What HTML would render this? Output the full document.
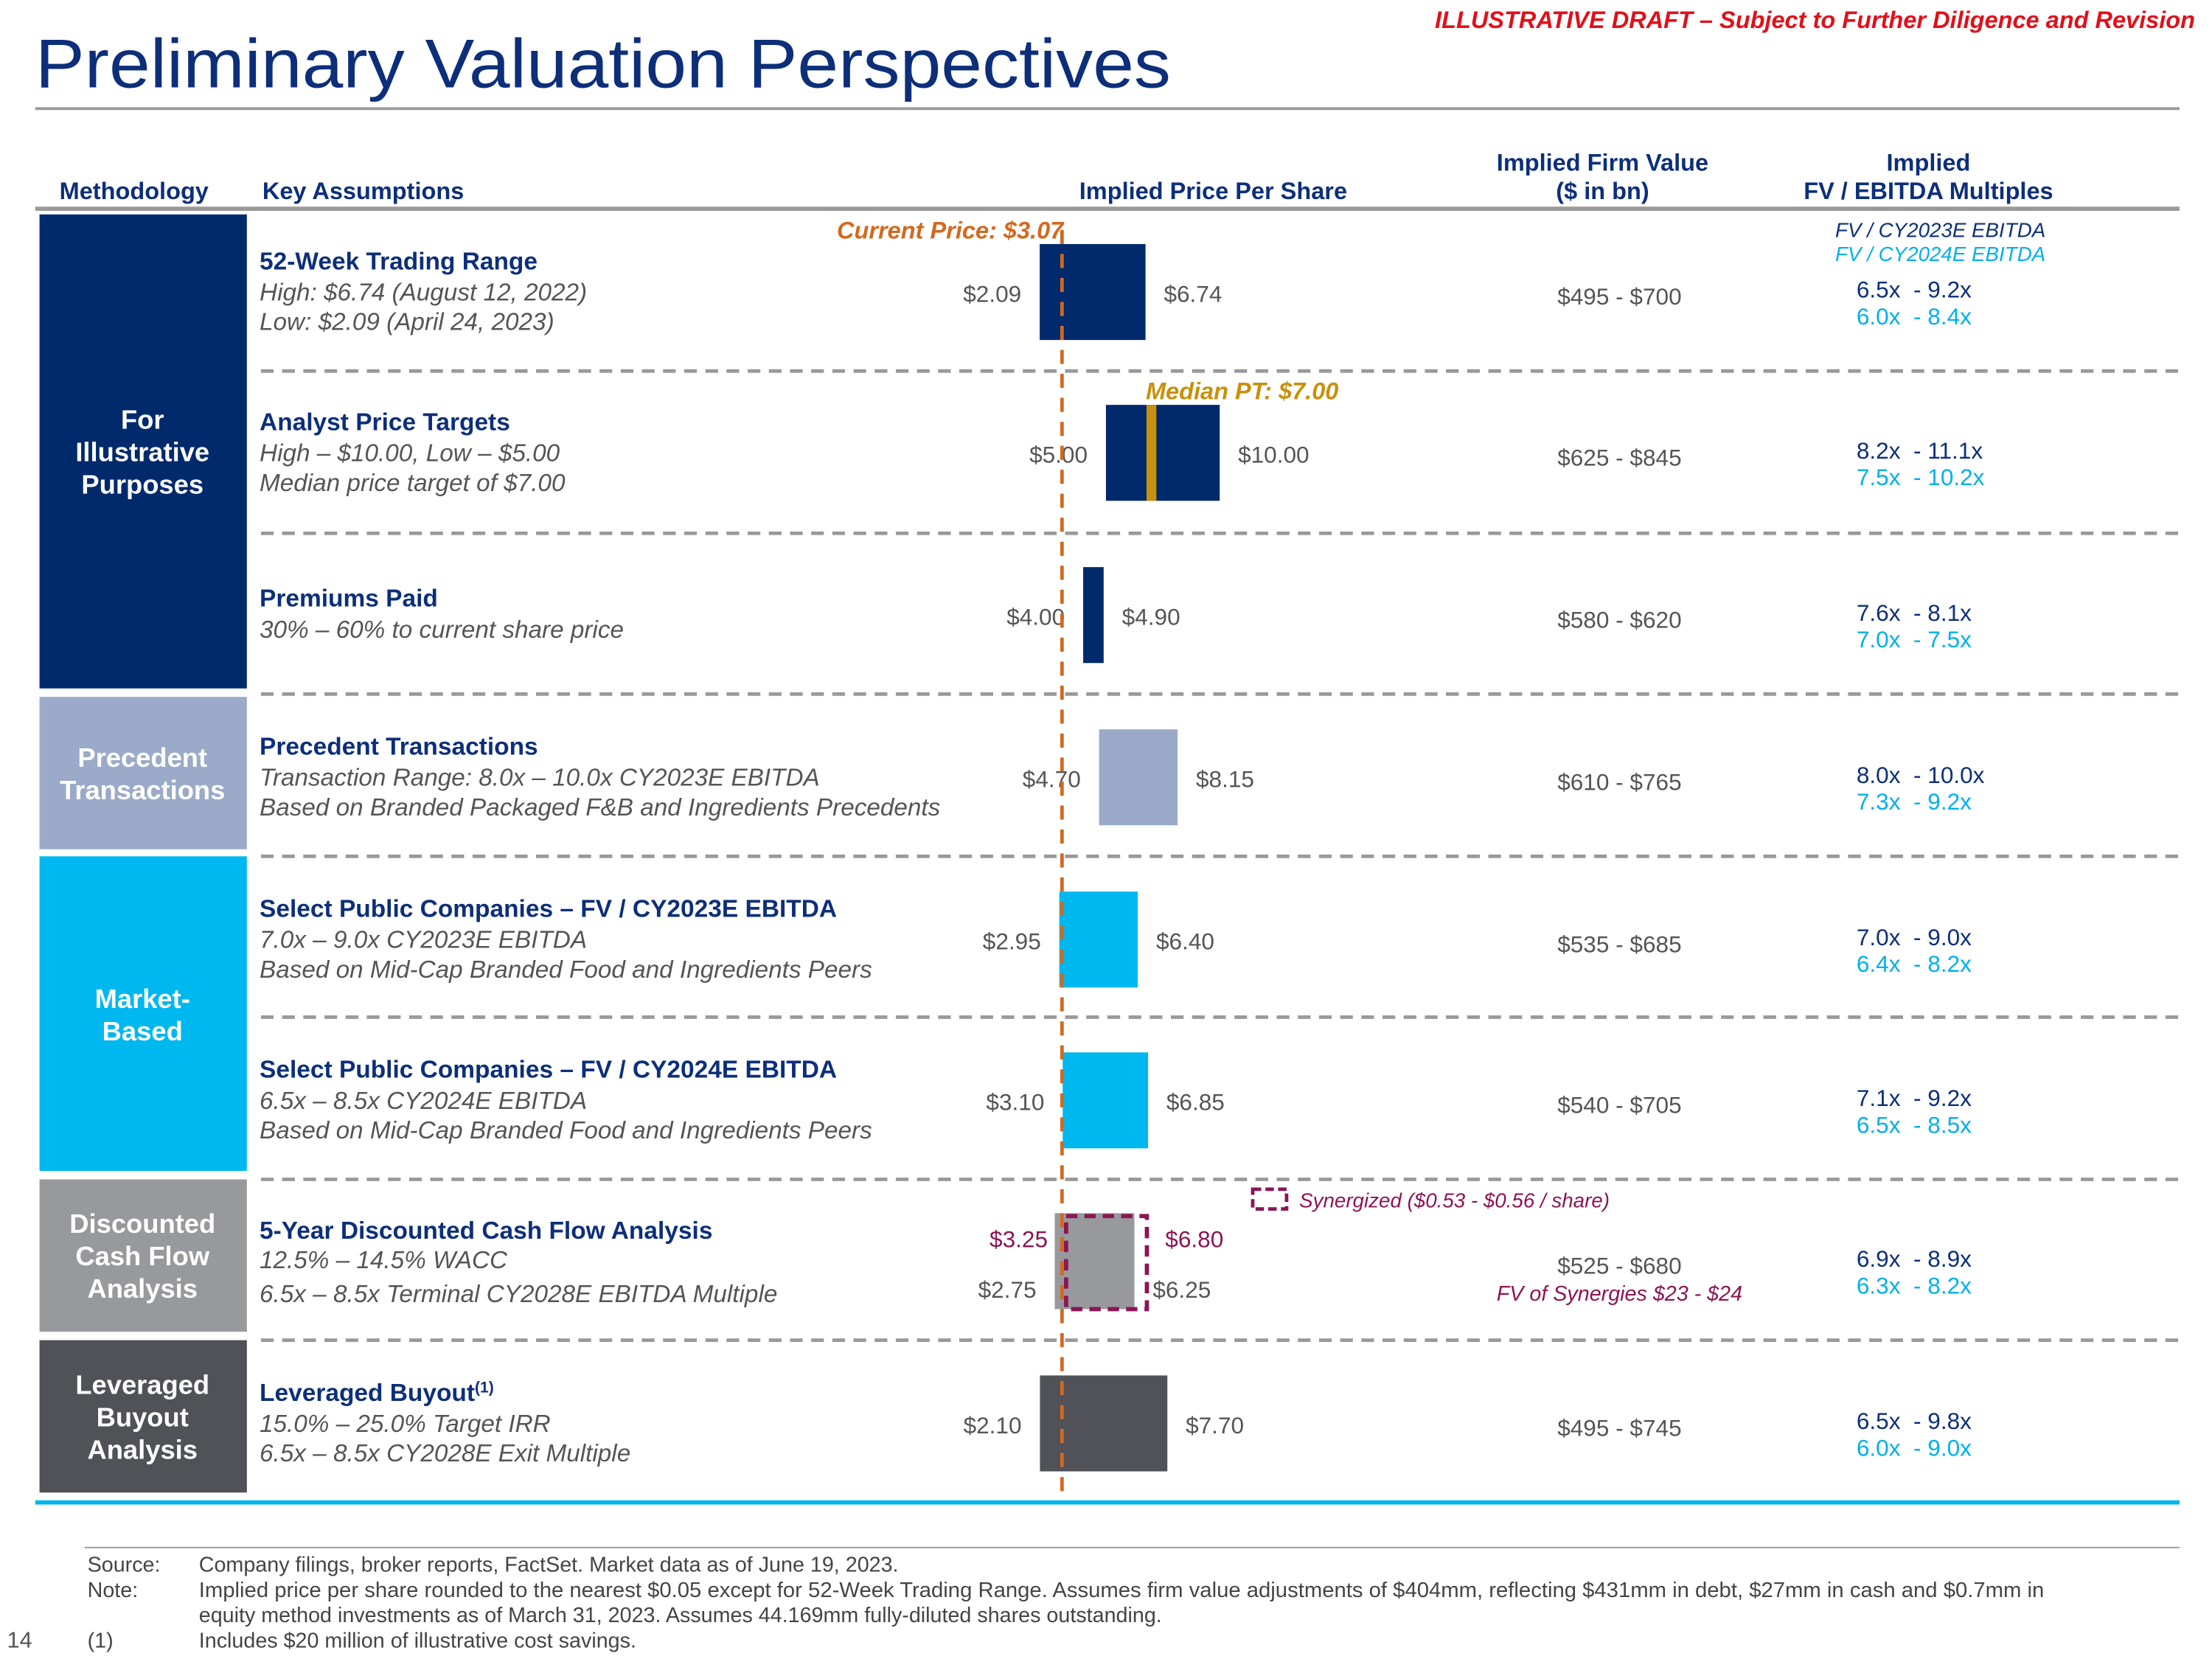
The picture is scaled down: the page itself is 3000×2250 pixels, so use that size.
<!DOCTYPE html>
<html><head><meta charset="utf-8"><style>
html,body{margin:0;padding:0;background:#fff}
svg{display:block;font-family:"Liberation Sans",Arial,sans-serif}
.pre{white-space:pre}
</style></head><body>
<svg id="chart" width="3000" height="2250" viewBox="0 0 1568 1176" xmlns="http://www.w3.org/2000/svg">
<rect width="1568" height="1176" fill="#fff"/>
<text x="1556" y="20" text-anchor="end" font-size="17" font-weight="bold" font-style="italic" fill="#e0101a">ILLUSTRATIVE DRAFT – Subject to Further Diligence and Revision</text>
<text x="25" y="62" font-size="49" fill="#0d2f7a" textLength="805" lengthAdjust="spacingAndGlyphs">Preliminary Valuation Perspectives</text>
<line x1="25" y1="77" x2="1545" y2="77" stroke="#999" stroke-width="2"/>
<g font-size="17" font-weight="bold" fill="#0d2f7a">
<text x="95" y="141" text-anchor="middle">Methodology</text>
<text x="186" y="141">Key Assumptions</text>
<text x="860" y="141" text-anchor="middle">Implied Price Per Share</text>
<text x="1136" y="121" text-anchor="middle">Implied Firm Value</text>
<text x="1136" y="141" text-anchor="middle">($ in bn)</text>
<text x="1367" y="121" text-anchor="middle">Implied</text>
<text x="1367" y="141" text-anchor="middle">FV / EBITDA Multiples</text>
</g>
<line x1="25" y1="148" x2="1545" y2="148" stroke="#999" stroke-width="3"/>
<g id="panels"></g>
<g id="rows"></g>
<line x1="25" y1="1065" x2="1545" y2="1065" stroke="#00b4ec" stroke-width="3"/>
<line x1="60" y1="1097" x2="1545" y2="1097" stroke="#999" stroke-width="1"/>
<g font-size="15" fill="#444">
<text x="62" y="1114">Source:</text><text x="141" y="1114">Company filings, broker reports, FactSet. Market data as of June 19, 2023.</text>
<text x="62" y="1132">Note:</text><text x="141" y="1132" textLength="1308" lengthAdjust="spacingAndGlyphs">Implied price per share rounded to the nearest $0.05 except for 52-Week Trading Range. Assumes firm value adjustments of $404mm, reflecting $431mm in debt, $27mm in cash and $0.7mm in</text>
<text x="141" y="1150">equity method investments as of March 31, 2023. Assumes 44.169mm fully-diluted shares outstanding.</text>
<text x="62" y="1168">(1)</text><text x="141" y="1168">Includes $20 million of illustrative cost savings.</text>
<text x="5" y="1168" font-size="16" fill="#555">14</text>
</g>
<script>
const rowLows = [2.09, 5.00, 4.00, 4.70, 2.95, 3.10, 2.75, 2.10];
const rowHighs = [6.74, 10.00, 4.90, 8.15, 6.40, 6.85, 6.25, 7.70];
const currentPrice = 3.07;
const medianPT = 7.00;
const synLow = 3.25, synHigh = 6.80;
const fvRanges = ["$495 - $700","$625 - $845","$580 - $620","$610 - $765","$535 - $685","$540 - $705","$525 - $680","$495 - $745"];
const mult23 = ["6.5x  - 9.2x","8.2x  - 11.1x","7.6x  - 8.1x","8.0x  - 10.0x","7.0x  - 9.0x","7.1x  - 9.2x","6.9x  - 8.9x","6.5x  - 9.8x"];
const mult24 = ["6.0x  - 8.4x","7.5x  - 10.2x","7.0x  - 7.5x","7.3x  - 9.2x","6.4x  - 8.2x","6.5x  - 8.5x","6.3x  - 8.2x","6.0x  - 9.0x"];
const titles = ["52-Week Trading Range","Analyst Price Targets","Premiums Paid","Precedent Transactions","Select Public Companies – FV / CY2023E EBITDA","Select Public Companies – FV / CY2024E EBITDA","5-Year Discounted Cash Flow Analysis","Leveraged Buyout"];
const lines = [["High: $6.74 (August 12, 2022)","Low: $2.09 (April 24, 2023)"],["High – $10.00, Low – $5.00","Median price target of $7.00"],["30% – 60% to current share price"],["Transaction Range: 8.0x – 10.0x CY2023E EBITDA","Based on Branded Packaged F&B and Ingredients Precedents"],["7.0x – 9.0x CY2023E EBITDA","Based on Mid-Cap Branded Food and Ingredients Peers"],["6.5x – 8.5x CY2024E EBITDA","Based on Mid-Cap Branded Food and Ingredients Peers"],["12.5% – 14.5% WACC","6.5x – 8.5x Terminal CY2028E EBITDA Multiple"],["15.0% – 25.0% Target IRR","6.5x – 8.5x CY2028E Exit Multiple"]];
const barColors = ["#002a6c","#002a6c","#002a6c","#9aaac8","#00b8f0","#00b8f0","#98999c","#505258"];
const NS="http://www.w3.org/2000/svg";
const rowsG=document.getElementById('rows');
const panelsG=document.getElementById('panels');
const X0=703.3, PX=16.13;
function x(v){return X0+v*PX;}
const rowC=[207,321,436,551,666,780,894,1009];
function mk(tag,attrs,parent,txt){const e=document.createElementNS(NS,tag);for(const k in attrs)e.setAttribute(k,attrs[k]);if(txt!==undefined)e.textContent=txt;(parent||rowsG).appendChild(e);return e;}
const panels=[[152,488,"#002a6c",["For","Illustrative","Purposes"],320],[494,602,"#9aaac8",["Precedent","Transactions"],548],[607,830,"#00b8f0",["Market-","Based"],719],[836,944,"#98999c",["Discounted","Cash Flow","Analysis"],890],[950,1058,"#505258",["Leveraged","Buyout","Analysis"],1004]];
panels.forEach((p,i)=>{
 const r=mk('rect',{x:28,y:p[0],width:147,height:p[1]-p[0],fill:p[2]},panelsG);
 
 
 const n=p[3].length;
 p[3].forEach((t,j)=>{
  const tx=mk('text',{x:101,y:p[4]+(j-(n-1)/2)*23+7,'text-anchor':'middle','font-size':19,'font-weight':'bold',fill:'#fff'},panelsG,t);
  
  
 });
});
[263,378,492,607,721,836,950].forEach(y=>{
 const l=mk('line',{x1:185,y1:y,x2:1545,y2:y,stroke:'#999','stroke-width':2.5,'stroke-dasharray':'9,6'});
 
 
});
rowLows.forEach((lo,i)=>{
 const c=rowC[i], hi=rowHighs[i];
 const nl=lines[i].length;
 const ty = nl===1 ? c-6 : c-16;
 const t=mk('text',{x:184,y:ty,'font-size':17.5,'font-weight':'bold',fill:'#0d2f7a'},rowsG,titles[i]);
 
 
 if(i===7){mk('tspan',{'font-size':11,dy:-6},t,'(1)');}
 lines[i].forEach((s,j)=>{
  const yy = i===6 ? (j===0?c+5:c+29) : ty+22+j*21;
  const e=mk('text',{x:184,y:yy,'font-size':17.4,'font-style':'italic',fill:'#555'},rowsG,s);
  
  
 });
 const b=mk('rect',{x:x(lo),y:c-34,width:x(hi)-x(lo),height:68,fill:barColors[i]});
 
 
 const ly = i===6 ? c+26 : c+7;
 const l1=mk('text',{x:x(lo)-13,y:ly,'text-anchor':'end','font-size':16.5,fill:'#555'},rowsG,'$'+lo.toFixed(2));
 
 
 const l2=mk('text',{x:x(hi)+13,y:ly,'font-size':16.5,fill:'#555'},rowsG,'$'+hi.toFixed(2));
 
 
 const fv=mk('text',{x:1148,y:c+9,'text-anchor':'middle','font-size':16.5,fill:'#555'},rowsG,fvRanges[i]);
 
 
 const m1=mk('text',{x:1316,y:c+4,'font-size':16.5,fill:'#0d2f7a','class':'pre'},rowsG,mult23[i]);
 
 
 const m2=mk('text',{x:1316,y:c+23,'font-size':16.5,fill:'#00b0ec','class':'pre'},rowsG,mult24[i]);
 
 
});
const mp=mk('rect',{x:x(medianPT)-3.5,y:rowC[1]-34,width:7,height:68,fill:'#c8900c'});


const mpt=mk('text',{x:x(medianPT)-4,y:283,'font-size':17,'font-weight':'bold','font-style':'italic',fill:'#c8900c'},rowsG,'Median PT: $'+medianPT.toFixed(2));


const sb=mk('rect',{x:x(synLow),y:rowC[6]-32,width:x(synHigh)-x(synLow),height:66,fill:'none',stroke:'#8c1556','stroke-width':3,'stroke-dasharray':'8,5'});


const s1=mk('text',{x:x(synLow)-13,y:rowC[6]-10,'text-anchor':'end','font-size':16.5,fill:'#8c1556'},rowsG,'$'+synLow.toFixed(2));


const s2=mk('text',{x:x(synHigh)+13,y:rowC[6]-10,'font-size':16.5,fill:'#8c1556'},rowsG,'$'+synHigh.toFixed(2));


const lg=mk('rect',{x:888,y:843,width:24,height:14,fill:'none',stroke:'#8c1556','stroke-width':2.5,'stroke-dasharray':'6,3'});


const lgt=mk('text',{x:921,y:856,'font-size':14.5,'font-style':'italic',fill:'#8c1556'},rowsG,'Synergized ($0.53 - $0.56 / share)');


const fs=mk('text',{x:1148,y:922,'text-anchor':'middle','font-size':15,'font-style':'italic',fill:'#8c1556'},rowsG,'FV of Synergies $23 - $24');


const cp=mk('line',{x1:x(currentPrice),y1:163,x2:x(currentPrice),y2:1062,stroke:'#d2691e','stroke-width':2.5,'stroke-dasharray':'10,7'});


const cpt=mk('text',{x:x(currentPrice)+1,y:169,'text-anchor':'end','font-size':17,'font-weight':'bold','font-style':'italic',fill:'#d2691e'},rowsG,'Current Price: $'+currentPrice.toFixed(2));


const h1=mk('text',{x:1450,y:168,'text-anchor':'end','font-size':14.5,'font-style':'italic',fill:'#0d2f7a'},rowsG,'FV / CY2023E EBITDA');


const h2=mk('text',{x:1450,y:185,'text-anchor':'end','font-size':14.5,'font-style':'italic',fill:'#00b0ec'},rowsG,'FV / CY2024E EBITDA');


</script>
</svg>
</body></html>
